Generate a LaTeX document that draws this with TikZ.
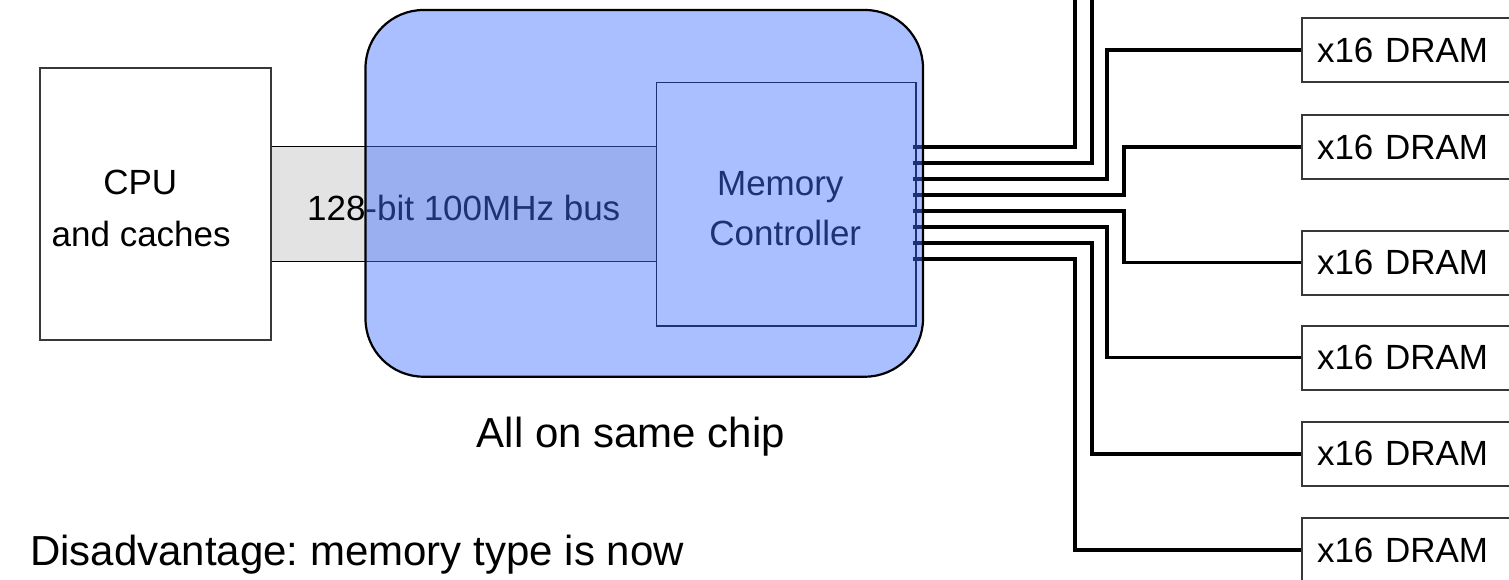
\documentclass[tikz,border=0pt]{standalone}
\usepackage{fontspec}
\setmainfont{Liberation Sans}
\usetikzlibrary{calc}
\definecolor{chipblue}{rgb}{0.26,0.44,1.0}
\definecolor{busgray}{HTML}{E3E3E3}
\frenchspacing
\begin{document}
\begin{tikzpicture}[x=1pt,y=-1pt,
  box/.style={draw=black!78,line width=2pt,inner sep=0pt},
  lbl/.style={inner sep=0pt,anchor=base,font=\fontsize{35}{42}\selectfont},
  big/.style={inner sep=0pt,anchor=base,font=\fontsize{42}{50}\selectfont},
  wire/.style={line width=3.8pt,line cap=butt,line join=miter},
  dram/.style={box,minimum height=64pt,anchor=west,text width=210pt,
    inner xsep=15pt,inner ysep=0pt,align=left,font=\fontsize{35}{42}\selectfont},
  chipbox/.style={draw=black,line width=2.2pt,fill=chipblue,fill opacity=0.45,
    rounded corners=58pt,inner sep=0pt}
]
\useasboundingbox (0,0) rectangle (1509,580);
\clip (0,0) rectangle (1509,580);

% bus between the CPU and the memory controller
\node[draw=black,line width=1.3pt,fill=busgray,inner sep=0pt,
  minimum width=386pt,minimum height=115pt] (bus) at (463.7,204.2) {};
% memory controller
\node[draw=black,line width=1.5pt,inner sep=0pt,
  minimum width=259.3pt,minimum height=243.3pt] (mc) at (786.35,204.35) {};
\node[lbl] (busT) at (463.7,220.7) {128-bit 100MHz bus};
\node[lbl] (mcT1) at (780.3,196) {Memory};
\node[lbl] (mcT2) at (785.3,245) {Controller};

% DRAM chips
\node[dram] (d1) at (1301,50.3) {x16 DRAM};
\node[dram] (d2) at (1301,147.2) {x16 DRAM};
\node[dram] (d3) at (1301,262.5) {x16 DRAM};
\node[dram] (d4) at (1301,357.5) {x16 DRAM};
\node[dram] (d5) at (1301,453.8) {x16 DRAM};
\node[dram] (d6) at (1301,550.3) {x16 DRAM};

% pins on the controller and wiring columns
\foreach \i/\y in {1/146.7,2/162.7,3/178.9,4/195,5/211,6/227,7/243.3,8/259.3}
  \coordinate (t\i) at (912.7,\y);
\coordinate (c1) at (1075,0);
\coordinate (c2) at (1092,0);
\coordinate (c3) at (1107,0);
\coordinate (c4) at (1124,0);
\coordinate (up1) at (1075,-10);
\coordinate (up2) at (1092,-10);

\draw[wire] (t1) -| (up1);
\draw[wire] (t2) -| (up2);
\draw[wire] (t3) -- (t3 -| c3) |- (d1.west);
\draw[wire] (t4) -- (t4 -| c4) |- (d2.west);
\draw[wire] (t5) -- (t5 -| c4) |- (d3.west);
\draw[wire] (t6) -- (t6 -| c3) |- (d4.west);
\draw[wire] (t7) -- (t7 -| c2) |- (d5.west);
\draw[wire] (t8) -- (t8 -| c1) |- (d6.west);

% the chip holding CPU-side bus end and the controller
\node[chipbox,minimum width=557.5pt,minimum height=366.7pt] (chip) at (644.25,193.35) {};

% CPU
\node[box,fill=white,minimum width=230.7pt,minimum height=271.7pt] (cpu) at (155.35,204.15) {};
\node[lbl] (cpuT1) at (140.3,195) {CPU};
\node[lbl] (cpuT2) at (141.2,246.7) {and caches};

\node[big] (chipT) at (631,447) {All on same chip};
\node[big,anchor=base west] (note) at (30,565.7) {Disadvantage: memory type is now};
\end{tikzpicture}
\end{document}
